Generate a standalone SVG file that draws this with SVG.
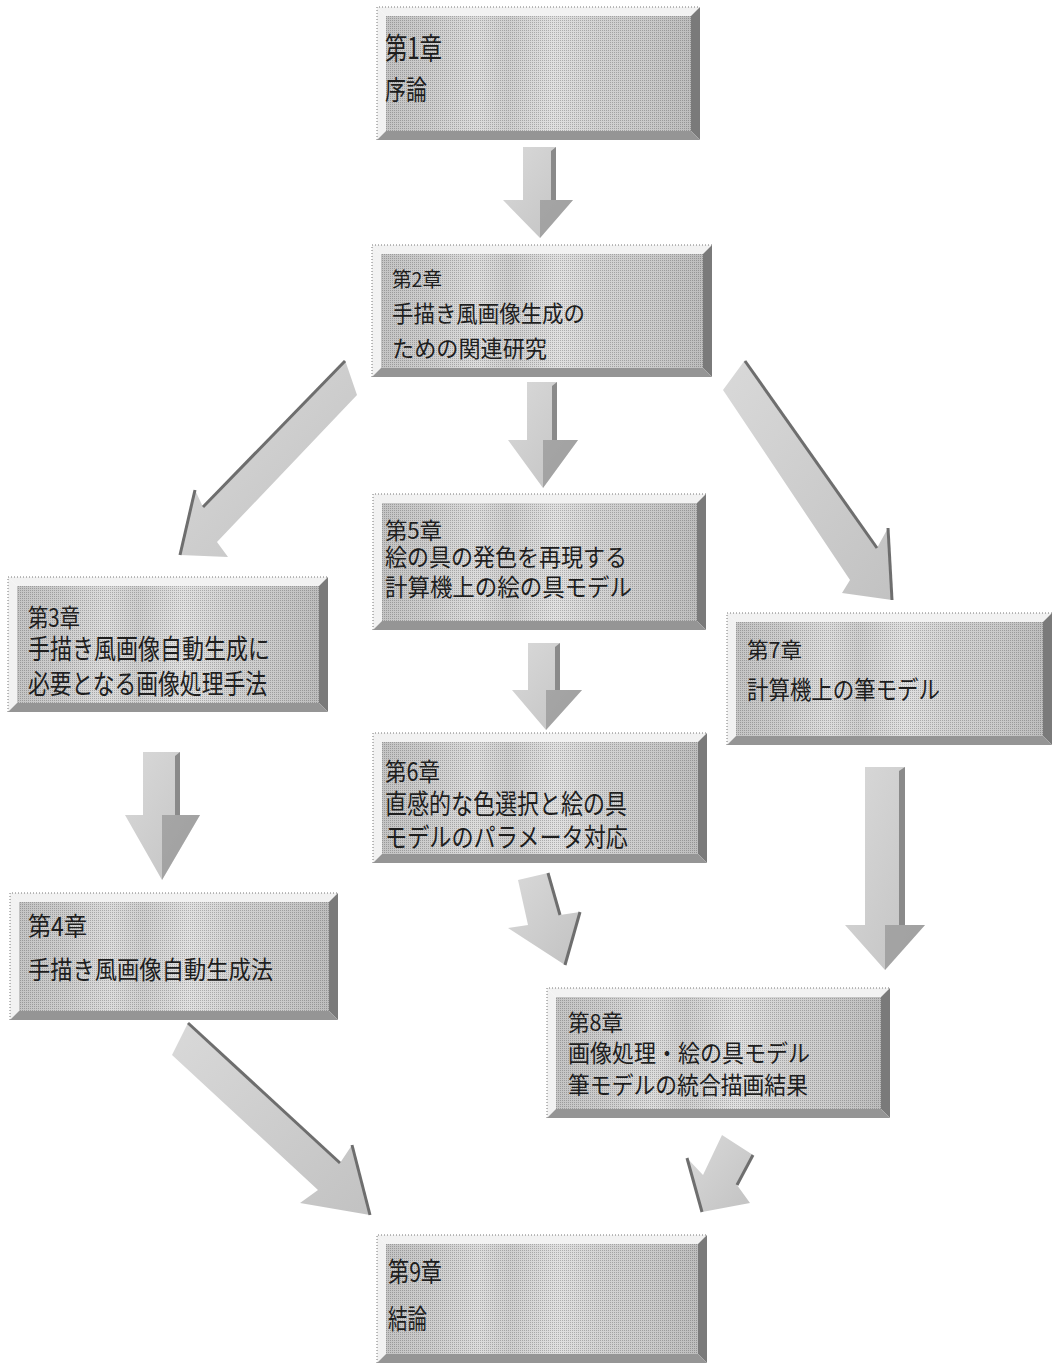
<svg xmlns="http://www.w3.org/2000/svg" width="1056" height="1363" viewBox="0 0 1056 1363">
<defs>
<linearGradient id="face" x1="0" x2="1" y1="0" y2="0">
<stop offset="0" stop-color="#c4c4c4"/><stop offset="0.15" stop-color="#cdcdcd"/><stop offset="0.3" stop-color="#dcdcdc"/><stop offset="0.4" stop-color="#cfcfcf"/><stop offset="0.55" stop-color="#e0e0e0"/><stop offset="0.7" stop-color="#d2d2d2"/><stop offset="0.85" stop-color="#cacaca"/><stop offset="1" stop-color="#bdbdbd"/>
</linearGradient>
<linearGradient id="arr" x1="0" x2="1" y1="0" y2="1">
<stop offset="0" stop-color="#d9d9d9"/><stop offset="1" stop-color="#c2c2c2"/>
</linearGradient>
<pattern id="dith" width="2" height="2" patternUnits="userSpaceOnUse"><rect width="1" height="1" fill="#000" opacity="0.22"/></pattern>
<style>
.top,.left{fill:#f2f2f2}
.right{fill:#7a7a7a}
.bottom{fill:#959595}
.face{fill:url(#face)}
.dith{fill:url(#dith)}
.edge{fill:none;stroke:#777;stroke-width:1;stroke-dasharray:1 2}
text{font-family:"Noto Sans CJK JP","Noto Sans CJK SC",sans-serif;fill:#1e1e1e}
.ar{fill:url(#arr)}
.ard{fill:#8a8a8a}
.are{fill:none;stroke:#6e6e6e;stroke-width:3;stroke-linejoin:round}
</style>
</defs>
<rect width="1056" height="1363" fill="#fff"/>

<g id="connectors">
<g id="a1"><polygon class="ar" points="523,147 556,147 556,200 573,200 540,238 503,200 523,200"/><polygon class="ard" points="551,151 556,147 556,200 551,200"/><polygon class="ard" opacity="0.6" points="540,200 573,200 540,238"/></g>
<g id="a2"><polygon class="ar" points="527,382 557,382 557,440 578,440 543,488 508,440 527,440"/><polygon class="ard" points="552,386 557,382 557,440 552,440"/><polygon class="ard" opacity="0.6" points="543,440 578,440 543,488"/></g>
<g id="a3"><polygon class="ar" points="528,643 560,643 560,690 582,690 546,730 512,690 528,690"/><polygon class="ard" points="555,647 560,643 560,690 555,690"/><polygon class="ard" opacity="0.6" points="546,690 582,690 546,730"/></g>
<g id="a4"><polygon class="ar" points="143,752 180,752 180,815 200,815 162,880 125,815 143,815"/><polygon class="ard" points="175,756 180,752 180,815 175,815"/><polygon class="ard" opacity="0.6" points="162,815 200,815 162,880"/></g>
<g id="a5"><polygon class="ar" points="865,767 905,767 905,925 925,925 885,970 845,925 865,925"/><polygon class="ard" points="899,771 905,767 905,925 899,925"/><polygon class="ard" opacity="0.6" points="885,925 925,925 885,970"/></g>
<g id="a6"><polygon class="ar" points="345,360 203,507 195,490 180,555 228,557 217,542 357,395"/><polyline class="are" points="345,361 203,507"/><polyline class="are" points="195,490 180,555"/></g>
<g id="a7"><polygon class="ar" points="745,360 877,548 888,528 892,600 842,593 850,580 723,390"/><polyline class="are" points="745,361 877,548"/><polyline class="are" points="888,528 892,600"/></g>
<g id="a8"><polygon class="ar" points="518,880 548,873 560,915 580,912 565,965 508,928 528,925"/><polyline class="are" points="548,873 560,915"/><polyline class="are" points="580,912 565,965"/></g>
<g id="a9"><polygon class="ar" points="188,1023 340,1163 352,1145 370,1215 300,1203 318,1190 172,1055"/><polyline class="are" points="188,1023 340,1163"/><polyline class="are" points="352,1145 370,1215"/></g>
<g id="a10"><polygon class="ar" points="722,1135 753,1155 737,1185 750,1203 702,1212 687,1158 703,1175"/><polyline class="are" points="753,1155 737,1185"/><polyline class="are" points="687,1158 702,1212"/></g>
</g>

<g id="ch1">
<polygon class="top" points="377,7 700,7 691,16 386,16"/><polygon class="left" points="377,7 386,16 386,131 377,140"/>
<rect class="face" x="386" y="16" width="305" height="115"/><rect class="dith" x="386" y="16" width="305" height="115"/>
<polygon class="right" points="691,16 700,7 700,140 691,131"/><polygon class="bottom" points="377,140 386,131 691,131 700,140"/>
<path class="edge" d="M377,140 V7 H700"/>
<text x="385" y="59" font-size="30" textLength="57" lengthAdjust="spacingAndGlyphs">第1章</text>
<text x="385" y="100" font-size="27" textLength="42" lengthAdjust="spacingAndGlyphs">序論</text>
</g>

<g id="ch2">
<polygon class="top" points="372,245 712,245 703,254 381,254"/><polygon class="left" points="372,245 381,254 381,368 372,377"/>
<rect class="face" x="381" y="254" width="322" height="114"/><rect class="dith" x="381" y="254" width="322" height="114"/>
<polygon class="right" points="703,254 712,245 712,377 703,368"/><polygon class="bottom" points="372,377 381,368 703,368 712,377"/>
<path class="edge" d="M372,377 V245 H712"/>
<text x="392" y="287" font-size="20" textLength="50" lengthAdjust="spacingAndGlyphs">第2章</text>
<text x="392" y="322" font-size="23" textLength="193" lengthAdjust="spacingAndGlyphs">手描き風画像生成の</text>
<text x="392" y="357" font-size="23" textLength="155" lengthAdjust="spacingAndGlyphs">ための関連研究</text>
</g>

<g id="ch3">
<polygon class="top" points="8,577 328,577 319,586 17,586"/><polygon class="left" points="8,577 17,586 17,703 8,712"/>
<rect class="face" x="17" y="586" width="302" height="117"/><rect class="dith" x="17" y="586" width="302" height="117"/>
<polygon class="right" points="319,586 328,577 328,712 319,703"/><polygon class="bottom" points="8,712 17,703 319,703 328,712"/>
<path class="edge" d="M8,712 V577 H328"/>
<text x="28" y="627" font-size="25" textLength="52" lengthAdjust="spacingAndGlyphs">第3章</text>
<text x="28" y="659" font-size="27" textLength="242" lengthAdjust="spacingAndGlyphs">手描き風画像自動生成に</text>
<text x="28" y="694" font-size="27" textLength="239" lengthAdjust="spacingAndGlyphs">必要となる画像処理手法</text>
</g>

<g id="ch4">
<polygon class="top" points="10,893 338,893 329,902 19,902"/><polygon class="left" points="10,893 19,902 19,1011 10,1020"/>
<rect class="face" x="19" y="902" width="310" height="109"/><rect class="dith" x="19" y="902" width="310" height="109"/>
<polygon class="right" points="329,902 338,893 338,1020 329,1011"/><polygon class="bottom" points="10,1020 19,1011 329,1011 338,1020"/>
<path class="edge" d="M10,1020 V893 H338"/>
<text x="28" y="936" font-size="26" textLength="59" lengthAdjust="spacingAndGlyphs">第4章</text>
<text x="28" y="979" font-size="25" textLength="245" lengthAdjust="spacingAndGlyphs">手描き風画像自動生成法</text>
</g>

<g id="ch5">
<polygon class="top" points="373,494 706,494 697,503 382,503"/><polygon class="left" points="373,494 382,503 382,621 373,630"/>
<rect class="face" x="382" y="503" width="315" height="118"/><rect class="dith" x="382" y="503" width="315" height="118"/>
<polygon class="right" points="697,503 706,494 706,630 697,621"/><polygon class="bottom" points="373,630 382,621 697,621 706,630"/>
<path class="edge" d="M373,630 V494 H706"/>
<text x="385" y="539" font-size="23" textLength="57" lengthAdjust="spacingAndGlyphs">第5章</text>
<text x="385" y="566" font-size="24" textLength="242" lengthAdjust="spacingAndGlyphs">絵の具の発色を再現する</text>
<text x="385" y="596" font-size="24" textLength="247" lengthAdjust="spacingAndGlyphs">計算機上の絵の具モデル</text>
</g>

<g id="ch6">
<polygon class="top" points="373,733 707,733 698,742 382,742"/><polygon class="left" points="373,733 382,742 382,854 373,863"/>
<rect class="face" x="382" y="742" width="316" height="112"/><rect class="dith" x="382" y="742" width="316" height="112"/>
<polygon class="right" points="698,742 707,733 707,863 698,854"/><polygon class="bottom" points="373,863 382,854 698,854 707,863"/>
<path class="edge" d="M373,863 V733 H707"/>
<text x="385" y="781" font-size="25" textLength="55" lengthAdjust="spacingAndGlyphs">第6章</text>
<text x="385" y="814" font-size="27" textLength="242" lengthAdjust="spacingAndGlyphs">直感的な色選択と絵の具</text>
<text x="385" y="847" font-size="26" textLength="243" lengthAdjust="spacingAndGlyphs">モデルのパラメータ対応</text>
</g>

<g id="ch7">
<polygon class="top" points="727,613 1052,613 1043,622 736,622"/><polygon class="left" points="727,613 736,622 736,736 727,745"/>
<rect class="face" x="736" y="622" width="307" height="114"/><rect class="dith" x="736" y="622" width="307" height="114"/>
<polygon class="right" points="1043,622 1052,613 1052,745 1043,736"/><polygon class="bottom" points="727,745 736,736 1043,736 1052,745"/>
<path class="edge" d="M727,745 V613 H1052"/>
<text x="747" y="658" font-size="22" textLength="55" lengthAdjust="spacingAndGlyphs">第7章</text>
<text x="747" y="699" font-size="25" textLength="193" lengthAdjust="spacingAndGlyphs">計算機上の筆モデル</text>
</g>

<g id="ch8">
<polygon class="top" points="547,988 890,988 881,997 556,997"/><polygon class="left" points="547,988 556,997 556,1109 547,1118"/>
<rect class="face" x="556" y="997" width="325" height="112"/><rect class="dith" x="556" y="997" width="325" height="112"/>
<polygon class="right" points="881,997 890,988 890,1118 881,1109"/><polygon class="bottom" points="547,1118 556,1109 881,1109 890,1118"/>
<path class="edge" d="M547,1118 V988 H890"/>
<text x="568" y="1031" font-size="23" textLength="55" lengthAdjust="spacingAndGlyphs">第8章</text>
<text x="568" y="1062" font-size="24" textLength="242" lengthAdjust="spacingAndGlyphs">画像処理・絵の具モデル</text>
<text x="568" y="1094" font-size="24" textLength="240" lengthAdjust="spacingAndGlyphs">筆モデルの統合描画結果</text>
</g>

<g id="ch9">
<polygon class="top" points="377,1235 707,1235 698,1244 386,1244"/><polygon class="left" points="377,1235 386,1244 386,1354 377,1363"/>
<rect class="face" x="386" y="1244" width="312" height="110"/><rect class="dith" x="386" y="1244" width="312" height="110"/>
<polygon class="right" points="698,1244 707,1235 707,1363 698,1354"/><polygon class="bottom" points="377,1363 386,1354 698,1354 707,1363"/>
<path class="edge" d="M377,1363 V1235 H707"/>
<text x="388" y="1282" font-size="27" textLength="54" lengthAdjust="spacingAndGlyphs">第9章</text>
<text x="388" y="1329" font-size="27" textLength="39" lengthAdjust="spacingAndGlyphs">結論</text>
</g>
</svg>
